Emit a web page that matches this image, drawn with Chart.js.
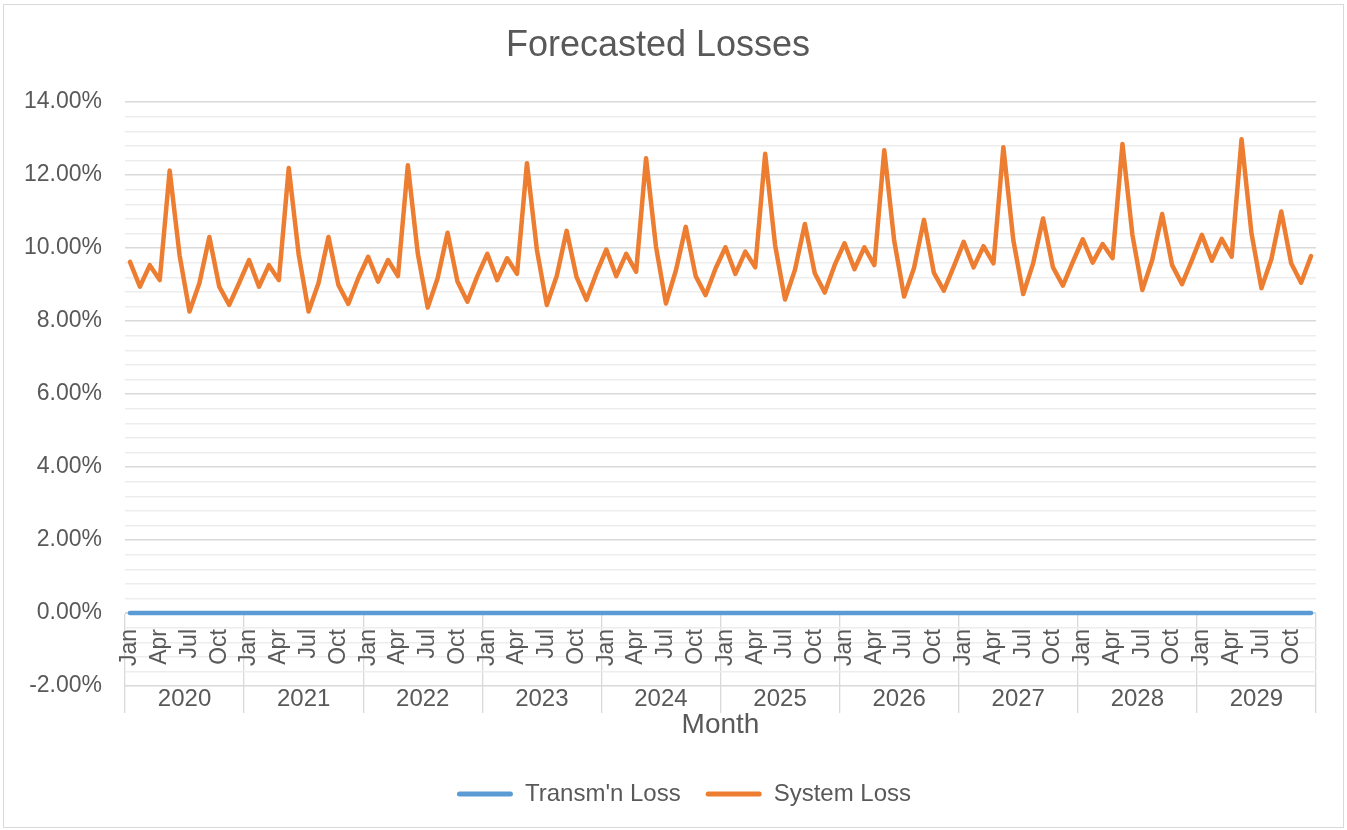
<!DOCTYPE html>
<html>
<head>
<meta charset="utf-8">
<script src="https://cdn.jsdelivr.net/npm/chart.js@4.4.1/dist/chart.umd.min.js"></script>
<style>
  html, body { margin: 0; padding: 0; background: #ffffff; }
  #wrap { position: absolute; left: 0; top: 0; width: 1347px; height: 830px; }
  #frame { position: absolute; left: 3px; top: 4px; width: 1341px; height: 824px;
           border: 1px solid #d9d9d9; box-sizing: border-box; pointer-events: none; }
</style>
</head>
<body>
<div id="wrap"><canvas id="chart" width="1347" height="830"></canvas></div>
<div id="frame"></div>
<script>
// ---------- data ----------
const months = ['Jan','Feb','Mar','Apr','May','Jun','Jul','Aug','Sep','Oct','Nov','Dec'];
const years = ['2020','2021','2022','2023','2024','2025','2026','2027','2028','2029'];
const shownMonths = ['Jan','Apr','Jul','Oct'];

// System Loss (%), one array per year, Jan..Dec
const systemLoss2020 = [9.62, 8.94, 9.53, 9.12, 12.12, 9.80, 8.26, 9.04, 10.30, 8.94, 8.44, 9.04];
const systemLoss2021 = [9.67, 8.94, 9.53, 9.12, 12.19, 9.82, 8.26, 9.04, 10.30, 8.99, 8.47, 9.17];
const systemLoss2022 = [9.76, 9.08, 9.67, 9.23, 12.27, 9.85, 8.37, 9.17, 10.42, 9.08, 8.53, 9.23];
const systemLoss2023 = [9.84, 9.12, 9.72, 9.29, 12.32, 9.95, 8.44, 9.23, 10.47, 9.20, 8.58, 9.31];
const systemLoss2024 = [9.96, 9.23, 9.84, 9.35, 12.46, 10.04, 8.48, 9.38, 10.58, 9.23, 8.71, 9.44];
const systemLoss2025 = [10.02, 9.29, 9.90, 9.47, 12.58, 10.08, 8.59, 9.40, 10.66, 9.31, 8.78, 9.53];
const systemLoss2026 = [10.13, 9.42, 10.02, 9.53, 12.68, 10.20, 8.67, 9.45, 10.77, 9.32, 8.83, 9.49];
const systemLoss2027 = [10.17, 9.47, 10.05, 9.58, 12.76, 10.22, 8.74, 9.58, 10.81, 9.47, 8.97, 9.62];
const systemLoss2028 = [10.24, 9.60, 10.11, 9.72, 12.85, 10.36, 8.85, 9.67, 10.93, 9.53, 9.01, 9.67];
const systemLoss2029 = [10.36, 9.65, 10.25, 9.76, 12.98, 10.40, 8.90, 9.69, 11.00, 9.58, 9.05, 9.78];

// Transm'n Loss (%), Jan 2020 .. Dec 2029
const transmLoss = [
  0,0,0,0,0,0,0,0,0,0,0,0,
  0,0,0,0,0,0,0,0,0,0,0,0,
  0,0,0,0,0,0,0,0,0,0,0,0,
  0,0,0,0,0,0,0,0,0,0,0,0,
  0,0,0,0,0,0,0,0,0,0,0,0,
  0,0,0,0,0,0,0,0,0,0,0,0,
  0,0,0,0,0,0,0,0,0,0,0,0,
  0,0,0,0,0,0,0,0,0,0,0,0,
  0,0,0,0,0,0,0,0,0,0,0,0,
  0,0,0,0,0,0,0,0,0,0,0,0
];

const yMin = -2, yMax = 14, yMinorStep = 0.4, yMajorStep = 2;

// ---------- derived structures ----------
const categories = [];
years.forEach(y => months.forEach(m => categories.push(m + ' ' + y)));
const systemLoss = [].concat(systemLoss2020, systemLoss2021, systemLoss2022, systemLoss2023,
  systemLoss2024, systemLoss2025, systemLoss2026, systemLoss2027, systemLoss2028, systemLoss2029);

const nCat = categories.length;
const yearBounds = years.map((y, i) => i * months.length - 0.5).concat([nCat - 0.5]);
const yearCenters = years.map((y, i) => i * months.length + (months.length - 1) / 2);

const FONT = "'Liberation Sans', Arial, sans-serif";
const TEXT = '#595959';
const GRID_MAJOR = '#d9d9d9';
const GRID_MINOR = '#ededed';
const LEGEND_SHIFT = 26;

function isMajor(v) { return Math.abs(v / yMajorStep - Math.round(v / yMajorStep)) < 1e-6; }
function isBound(v) { return yearBounds.some(b => Math.abs(b - v) < 1e-6); }

const legendShift = {
  id: 'legendShift',
  afterLayout(chart) {
    if (chart.legend) { chart.legend.left += LEGEND_SHIFT; chart.legend.right += LEGEND_SHIFT; }
  }
};

new Chart(document.getElementById('chart').getContext('2d'), {
  type: 'line',
  data: {
    labels: categories,
    datasets: [
      { label: "Transm'n Loss", data: transmLoss, borderColor: '#5b9bd5', backgroundColor: '#5b9bd5',
        borderWidth: 4.5, pointRadius: 0, borderCapStyle: 'round', borderJoinStyle: 'round', tension: 0 },
      { label: 'System Loss', data: systemLoss, borderColor: '#ed7d31', backgroundColor: '#ed7d31',
        borderWidth: 4.5, pointRadius: 0, borderCapStyle: 'round', borderJoinStyle: 'round', tension: 0 }
    ]
  },
  plugins: [legendShift],
  options: {
    responsive: false,
    animation: false,
    events: [],
    layout: { padding: { left: 0, right: 31, top: 0, bottom: 14 } },
    plugins: {
      title: {
        display: true, text: 'Forecasted Losses', color: TEXT,
        font: { family: FONT, size: 36, weight: 'normal' },
        padding: { top: 24, bottom: 34.8 }
      },
      legend: {
        position: 'bottom',
        labels: {
          color: TEXT, font: { family: FONT, size: 24 },
          boxWidth: 56, boxHeight: 5, padding: 25, useBorderRadius: true, borderRadius: 2.5,
          generateLabels: (chart) => chart.data.datasets.map((d, i) => ({
            text: d.label, fillStyle: d.borderColor, strokeStyle: d.borderColor, lineWidth: 0,
            hidden: false, datasetIndex: i, borderRadius: 2.5, fontColor: TEXT
          }))
        }
      },
      tooltip: { enabled: false }
    },
    scales: {
      x: {
        type: 'category',
        position: { y: 0 },
        offset: true,
        grid: {
          offset: true, drawOnChartArea: false, drawTicks: true, tickLength: 73, lineWidth: 1.3,
          color: (ctx) => (ctx.index === undefined || ctx.index % months.length === 0) ? GRID_MAJOR : 'rgba(0,0,0,0)'
        },
        border: { display: true, color: GRID_MAJOR },
        ticks: {
          autoSkip: false, minRotation: 90, maxRotation: 90, padding: -57, color: TEXT,
          font: { family: FONT, size: 23 },
          callback: (v, i) => shownMonths.includes(months[i % months.length]) ? months[i % months.length] : ''
        }
      },
      x2: {
        type: 'linear',
        position: 'bottom',
        min: -0.5, max: nCat - 0.5,
        afterBuildTicks: (s) => {
          s.ticks = yearBounds.concat(yearCenters).sort((a, b) => a - b).map(v => ({ value: v }));
        },
        afterFit: (s) => { s.height = 71; },
        grid: {
          drawOnChartArea: false, drawTicks: true, tickLength: 27, lineWidth: 1.3,
          color: (ctx) => (ctx.tick && isBound(ctx.tick.value)) ? GRID_MAJOR : 'rgba(0,0,0,0)'
        },
        border: { display: false },
        ticks: {
          autoSkip: false, maxRotation: 0, minRotation: 0, padding: -27.9, color: TEXT,
          font: { family: FONT, size: 24 },
          callback: (v) => {
            const k = yearCenters.findIndex(c => Math.abs(c - v) < 1e-6);
            return k >= 0 ? years[k] : '';
          }
        },
        title: {
          display: true, text: 'Month', color: TEXT,
          font: { family: FONT, size: 28 },
          padding: { top: 0, bottom: 15.2 }
        }
      },
      y: {
        type: 'linear',
        min: yMin, max: yMax,
        afterFit: (s) => { s.width = 125; },
        ticks: {
          stepSize: yMinorStep, autoSkip: false, padding: 23, color: TEXT,
          font: { family: FONT, size: 23 },
          callback: (v) => isMajor(v) ? Number(v).toFixed(2) + '%' : ''
        },
        grid: {
          drawTicks: false, lineWidth: 1.4,
          color: (ctx) => (ctx.tick && isMajor(ctx.tick.value)) ? GRID_MAJOR : GRID_MINOR
        },
        border: { display: false }
      }
    }
  }
});
</script>
</body>
</html>
